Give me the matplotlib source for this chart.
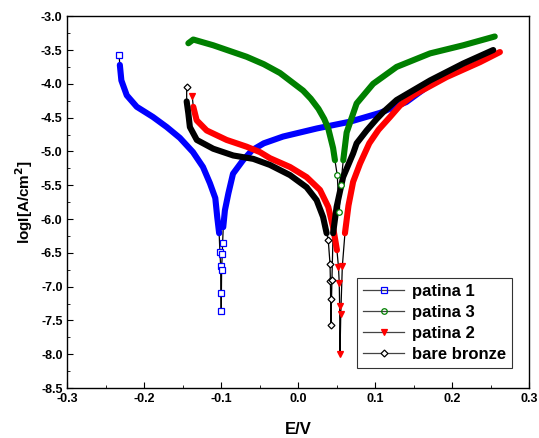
import numpy as np
import matplotlib
matplotlib.use('Agg')
import matplotlib.pyplot as plt

plt.rcParams['font.family'] = ['Liberation Sans', 'DejaVu Sans']
plt.rcParams['font.weight'] = 'bold'

# Curvas de polarización (E en V, log I en A/cm2)
e_p1 = [-0.233, -0.232, -0.230, -0.223, -0.210, -0.189, -0.171, -0.154, -0.137, -0.124,
        -0.115, -0.108, -0.1055, -0.103, -0.102, -0.101, -0.1006, -0.1003,
        -0.0998, -0.099, -0.0985, -0.0977, -0.0955, -0.091, -0.085, -0.072, -0.060,
        -0.045, -0.020, 0.024, 0.067, 0.106, 0.140, 0.1665]
i_p1 = [-3.58, -3.72, -3.95, -4.17, -4.34, -4.49, -4.64, -4.80, -5.01, -5.23,
        -5.47, -5.69, -5.97, -6.21, -6.49, -6.70, -7.09, -7.36,
        -6.76, -6.52, -6.36, -6.12, -5.87, -5.62, -5.33, -5.13, -4.98,
        -4.88, -4.78, -4.66, -4.56, -4.43, -4.27, -4.05]

e_p3 = [-0.143, -0.1366, -0.1107, -0.0673, -0.045, -0.024, 0.006, 0.016, 0.026, 0.0335,
        0.0387, 0.045, 0.0474, 0.0504, 0.053, 0.055, 0.0582, 0.0626, 0.0756, 0.097,
        0.1275, 0.171, 0.214, 0.255]
i_p3 = [-3.40, -3.345, -3.43, -3.60, -3.71, -3.84, -4.10, -4.22, -4.37, -4.52,
        -4.66, -4.95, -5.13, -5.35, -5.90, -5.50, -5.13, -4.72, -4.29, -4.00,
        -3.75, -3.55, -3.43, -3.30]

e_p2 = [-0.138, -0.1366, -0.1322, -0.1192, -0.0933, -0.0673, -0.050, -0.037, -0.011, 0.0106,
        0.028, 0.0387, 0.045, 0.050, 0.052, 0.053, 0.0535, 0.054,
        0.055, 0.057, 0.0604, 0.065, 0.071, 0.080, 0.092, 0.104, 0.119, 0.132, 0.149,
        0.1925, 0.2357, 0.2617]
i_p2 = [-4.18, -4.34, -4.54, -4.69, -4.83, -4.93, -5.01, -5.10, -5.23, -5.38,
        -5.57, -5.82, -6.12, -6.46, -6.71, -6.95, -7.28, -7.99,
        -7.40, -6.70, -6.21, -5.80, -5.45, -5.18, -4.88, -4.68, -4.49, -4.32, -4.17,
        -3.90, -3.68, -3.53]

e_bb = [-0.1452, -0.1452, -0.143, -0.141, -0.132, -0.1107, -0.0847, -0.0587, -0.037, -0.011,
        0.0106, 0.0236, 0.032, 0.0366, 0.0387, 0.041, 0.0415, 0.0418, 0.0422,
        0.0435, 0.045, 0.0496, 0.058, 0.071, 0.0756, 0.0886, 0.1016, 0.110, 0.1275,
        0.171, 0.214, 0.253]
i_bb = [-4.04, -4.26, -4.44, -4.64, -4.83, -4.96, -5.06, -5.11, -5.20, -5.35,
        -5.53, -5.72, -5.97, -6.21, -6.31, -6.66, -6.91, -7.19, -7.57,
        -6.90, -6.21, -5.82, -5.38, -5.03, -4.88, -4.69, -4.52, -4.42, -4.24,
        -3.95, -3.70, -3.50]

# nombre, E, logI, color, marcador, relleno, inicio de banda, piso de banda
series = [
    ('patina 1', e_p1, i_p1, 'blue', 's', 'none', 1, -6.25),
    ('patina 3', e_p3, i_p3, 'green', 'o', 'none', 0, -5.2),
    ('patina 2', e_p2, i_p2, 'red', 'v', 'red', 1, -6.5),
    ('bare bronze', e_bb, i_bb, 'black', 'D', 'white', 1, -6.25),
]

fig = plt.figure(figsize=(5.39, 4.38), dpi=100)
ax = fig.add_axes([0.1252, 0.114, 0.857, 0.849])

for nombre, e, i, col, mk, fc, ini, piso in series:
    e = np.array(e)
    i = np.array(i)
    en_banda = (np.arange(len(i)) >= ini) & (i >= piso)
    banda = np.where(en_banda, i, np.nan)
    puntas = np.where(en_banda, np.nan, i)
    ms = 3.5 if mk == 'D' else 4
    # línea fina que une los puntos
    ax.plot(e, i, '-', color='black', lw=0.9, zorder=1)
    # zona densa de marcadores
    ax.plot(e, banda, '-', color=col, lw=4.4, solid_capstyle='round',
            solid_joinstyle='round', zorder=2)
    # marcadores sueltos en los extremos
    ax.plot(e, puntas, 'none', marker=mk, ms=ms, mfc=fc if fc != 'none' else 'white',
            mec=col, mew=0.9, zorder=3)
    # entrada de la leyenda
    ax.plot([], [], '-', color='#444444', lw=0.9, marker=mk, ms=ms, mfc=fc,
            mec=col, mew=0.9, label=nombre)

ax.set_xlim(-0.3, 0.3)
ax.set_ylim(-8.5, -3.0)
ax.set_xticks(np.arange(-0.3, 0.31, 0.1))
ax.set_xticks(np.arange(-0.25, 0.3, 0.1), minor=True)
ax.set_yticks(np.arange(-8.5, -2.99, 0.5))
ax.set_yticks(np.arange(-8.25, -3.0, 0.5), minor=True)
ax.xaxis.set_major_formatter(plt.FormatStrFormatter('%.1f'))
ax.yaxis.set_major_formatter(plt.FormatStrFormatter('%.1f'))
ax.tick_params(which='both', direction='in', labelsize=9)
ax.tick_params(which='major', length=4)
ax.tick_params(which='minor', length=2.5)
for s in ax.spines.values():
    s.set_linewidth(1.0)

ax.set_xlabel('E/V', fontsize=12, fontweight='bold', labelpad=12)
ax.set_ylabel('logI[A/cm$^\\mathbf{2}$]', fontsize=11, fontweight='bold')

leg = ax.legend(loc='lower right', bbox_to_anchor=(0.962, 0.055), fontsize=12,
                frameon=True, fancybox=False, edgecolor='black', handlelength=2.5,
                borderpad=0.35, labelspacing=0.35, handletextpad=0.45,
                borderaxespad=0.0)
leg.get_frame().set_linewidth(0.8)

fig.savefig('out.png', dpi=100)
